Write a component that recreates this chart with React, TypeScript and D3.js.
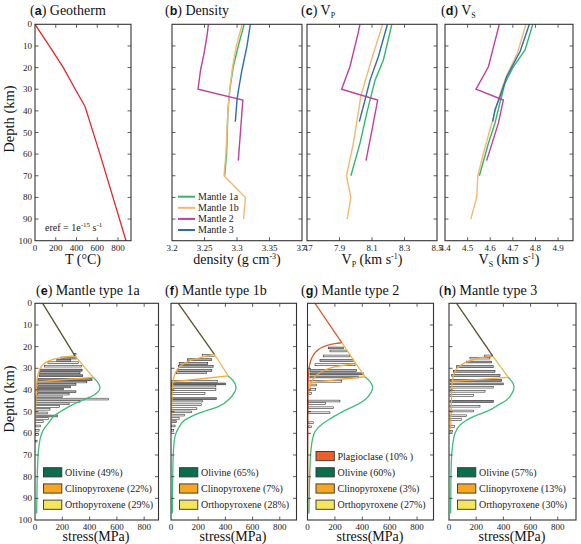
import React from 'react';
import * as d3 from 'd3';

const SERIF = { fontFamily: 'Liberation Serif' };
const SANS = { fontFamily: 'Liberation Sans' };

const depthTicks = [0, 10, 20, 30, 40, 50, 60, 70, 80, 90, 100];

// ---- (a) Geotherm ----
const geoDepth = [0, 10, 20, 30, 38, 60, 100];
const geoTemp = [0, 138, 273, 388, 482, 626, 877];
const tempTicks = [0, 200, 400, 600, 800];

// ---- top-row series ----
const seriesNames = ['Mantle 1a', 'Mantle 1b', 'Mantle 2', 'Mantle 3'];
const seriesColors = ['#35b56a', '#f4b870', '#c03f9f', '#2c6db5'];

// density
const rho1aDepth = [0, 10, 20, 30, 40, 60, 70];
const rho1a = [3.311, 3.302, 3.294, 3.289, 3.286, 3.284, 3.281];
const rho1bDepth = [0, 10, 20, 30, 40, 60, 70, 80, 90];
const rho1b = [3.308, 3.299, 3.293, 3.289, 3.286, 3.283, 3.28, 3.313, 3.31];
const rho2Depth = [0, 5, 14, 21, 30, 35, 47, 63];
const rho2 = [3.256, 3.254, 3.249, 3.244, 3.24, 3.309, 3.306, 3.302];
const rho3Depth = [0, 10, 21, 30, 35, 45];
const rho3 = [3.3205, 3.3154, 3.3077, 3.3025, 3.3, 3.2974];
const rhoTicks = [3.2, 3.25, 3.3, 3.35, 3.4];

// Vp
const vp1aDepth = [0, 16.5, 25.8, 40, 55, 70];
const vp1a = [8.222, 8.17, 8.119, 8.071, 8.026, 7.97];
const vp1bDepth = [0, 13.6, 25, 33, 41, 55, 70, 80, 90];
const vp1b = [8.166, 8.108, 8.063, 8.032, 8.015, 7.985, 7.943, 7.97, 7.947];
const vp2Depth = [0, 4, 19.6, 30, 35, 49.6, 63];
const vp2 = [8.026, 8.015, 7.964, 7.913, 8.135, 8.098, 8.063];
const vp3Depth = [0, 15, 25.8, 35, 45];
const vp3 = [8.195, 8.139, 8.088, 8.057, 8.022];
const vpTicks = [7.7, 7.9, 8.1, 8.3, 8.5];

// Vs
const vs1aDepth = [0, 11.8, 20, 27.3, 35, 45.6, 55, 70];
const vs1a = [4.788, 4.754, 4.7, 4.665, 4.646, 4.621, 4.592, 4.552];
const vs1bDepth = [0, 13.4, 24.2, 33.5, 45.7, 59.6, 70, 80, 90];
const vs1b = [4.758, 4.72, 4.67, 4.639, 4.607, 4.57, 4.545, 4.54, 4.514];
const vs2Depth = [0, 19.6, 30, 35, 45.7, 63];
const vs2 = [4.64, 4.592, 4.537, 4.658, 4.636, 4.584];
const vs3Depth = [0, 12.6, 24.2, 33.5, 39.5, 45];
const vs3 = [4.773, 4.732, 4.673, 4.643, 4.621, 4.611];
const vsTicks = [4.4, 4.5, 4.6, 4.7, 4.8, 4.9];

// ---- bottom-row strength envelopes: [stress MPa, depth km] ----
const stressTicks = [0, 200, 400, 600, 800];

const eBrittle = [[56, 0], [293, 24.3]];
const eBrittleOpx = [[293, 24.3], [427, 34.2]];
const eCpx = [[293, 24.3], [230, 24.7], [160, 25.4], [100, 26.6], [60, 28.2], [35, 30.5], [20, 33.5], [12, 37], [8, 42], [5, 50], [4, 56]];
const eOpx = [[427, 34.2], [17, 36.2]];
const eOlivine = [[427, 34.2], [455, 36], [470, 37.6], [476, 38.8], [466, 40.5], [432, 42.3], [354, 44.6], [270, 47], [207, 49.2], [140, 52], [97, 55.4], [60, 58.5], [40, 62], [27, 67], [19, 75], [15, 85], [12, 97]];
// bars: [top km, bottom km, lo MPa, hi MPa, fill 0 white / 1 grey / 2 dark]
const eBars = [
  [23.2, 23.9, 285, 300, 0], [24.8, 25.7, 190, 305, 1], [25.9, 26.7, 160, 262, 1], [27.0, 27.8, 95, 320, 0],
  [28.6, 29.4, 70, 340, 0], [30.4, 31.3, 35, 345, 2], [31.6, 32.5, 35, 330, 1], [33.0, 33.8, 30, 350, 2],
  [34.8, 35.7, 20, 418, 2], [36.0, 36.7, 20, 380, 0], [37.0, 37.8, 20, 300, 1], [38.2, 39.0, 20, 260, 1],
  [39.2, 39.9, 20, 210, 1], [40.4, 41.2, 20, 300, 1], [41.6, 42.3, 15, 250, 0], [42.8, 43.5, 5, 200, 0],
  [43.8, 44.6, 5, 537, 0], [44.9, 45.6, 5, 330, 0], [46.0, 46.8, 5, 250, 0], [47.2, 48.0, 5, 180, 0],
  [48.5, 49.3, 5, 110, 0], [50.2, 51.0, 5, 90, 0], [51.6, 52.4, 5, 165, 1], [52.8, 53.5, 5, 100, 0],
  [54.2, 55.0, 5, 60, 0], [56.2, 57.0, 5, 40, 0], [58.2, 59.0, 5, 30, 0], [60.2, 61.0, 5, 25, 0], [63.2, 64.0, 5, 15, 0],
];

const fBrittle = [[54, 0], [318, 23.4]];
const fBrittleOpx = [[318, 23.4], [421, 33.5]];
const fCpx = [[318, 23.4], [250, 24.5], [180, 25.6], [110, 27.3], [60, 29.5], [30, 32.5], [15, 36], [8, 42], [5, 50], [4, 56]];
const fOpx = [[421, 33.5], [15, 36.2]];
const fOlivine = [[421, 33.5], [455, 35.5], [473, 37.5], [478, 38.8], [468, 41], [434, 43.8], [348, 47.7], [270, 49.3], [201, 50.8], [140, 52.5], [103, 53.8], [54, 57.7], [29, 61.5], [18, 68], [13, 78], [11, 88], [10, 97]];
const fBars = [
  [23.6, 24.4, 230, 320, 0], [25.6, 26.4, 120, 300, 1], [27.4, 28.2, 60, 270, 1], [28.7, 29.5, 55, 310, 1],
  [30.6, 31.4, 50, 300, 1], [31.7, 32.5, 40, 260, 0], [35.6, 36.4, 5, 340, 0], [36.8, 37.6, 5, 400, 2],
  [37.8, 38.6, 5, 330, 0], [39.4, 40.2, 5, 330, 0], [41.2, 42.0, 5, 250, 0], [43.6, 44.4, 5, 335, 2],
  [44.7, 45.5, 5, 230, 0], [46.4, 47.2, 5, 225, 0], [48.2, 49.0, 5, 190, 0], [49.7, 50.5, 5, 150, 0],
  [51.2, 52.0, 5, 100, 0], [52.7, 53.5, 5, 60, 0], [54.2, 55.0, 5, 40, 1], [56.2, 57.0, 5, 30, 0], [58.2, 59.0, 5, 20, 0],
];

const gBrittle = [[55, 0], [250, 18.2]];
const gBrittleOpx = [[250, 18.2], [420, 33.9]];
const gPlag = [[250, 18.2], [200, 18.6], [150, 19.3], [100, 20.5], [60, 22.5], [30, 25.4], [15, 28.5], [8, 32], [5, 36], [3, 45], [2, 60], [2, 97]];
const gCpx = [[334, 27.9], [270, 28.5], [190, 29.5], [120, 31], [70, 33], [40, 35], [20, 38], [10, 42]];
const gOpx = [[420, 33.9], [18, 36.6]];
const gOlivine = [[420, 33.9], [455, 36], [472, 37.8], [476, 38.8], [465, 41], [432, 43.8], [334, 47.7], [270, 49.5], [213, 51.5], [160, 53.5], [115, 55.4], [55, 59.2], [38, 62.3], [25, 68], [17, 78], [13, 88], [11, 97]];
const gBars = [
  [20.2, 21.0, 152, 262, 1], [21.6, 22.4, 164, 286, 0], [23.9, 24.7, 115, 310, 0], [26.0, 26.8, 91, 335, 1],
  [27.9, 28.8, 55, 347, 0], [30.6, 31.4, 18, 359, 1], [32.1, 33.0, 18, 408, 2], [33.6, 34.4, 18, 371, 1],
  [35.6, 36.4, 18, 250, 0], [37.3, 38.1, 18, 67, 0], [39.3, 40.1, 18, 60, 0], [41.2, 42.0, 5, 30, 0],
  [44.7, 45.5, 5, 237, 0], [45.8, 46.6, 5, 130, 0], [47.8, 48.6, 5, 189, 0], [50.1, 50.9, 5, 164, 0],
  [54.7, 55.5, 5, 43, 0], [56.6, 57.4, 5, 30, 0],
];

const hBrittle = [[56, 0], [321, 24.3]];
const hBrittleOpx = [[321, 24.3], [436, 34.2]];
const hCpx = [[321, 24.3], [250, 25], [170, 26.2], [110, 27.7], [60, 30], [35, 33], [25, 36], [20, 40], [18, 45], [15, 52], [12, 58]];
const hOpx = [[436, 34.2], [20, 36]];
const hOlivine = [[436, 34.2], [462, 36], [476, 37.8], [478, 38.8], [468, 41], [424, 44.6], [360, 47], [301, 49.2], [240, 50.8], [179, 52.3], [120, 54.3], [81, 56.2], [44, 60], [28, 65], [18, 72], [14, 82], [12, 97]];
const hBars = [
  [23.9, 24.6, 260, 321, 0], [24.9, 25.7, 154, 301, 0], [26.7, 27.5, 130, 314, 1], [28.8, 29.7, 56, 326, 1],
  [30.9, 31.8, 32, 338, 1], [32.8, 33.7, 20, 375, 1], [35.2, 36.0, 7, 387, 2], [36.8, 37.6, 7, 399, 1],
  [38.3, 39.1, 7, 326, 0], [40.2, 41.0, 7, 265, 0], [42.1, 42.9, 7, 180, 0], [44.8, 45.7, 7, 326, 2],
  [47.1, 47.9, 7, 228, 0], [49.3, 50.1, 7, 179, 0], [51.5, 52.3, 7, 130, 0], [53.2, 54.0, 7, 90, 0],
  [56.4, 57.3, 7, 40, 0], [58.6, 59.4, 7, 25, 0],
];

const mineralColors: Record<string, string> = {
  Plagioclase: '#e8602c', Olivine: '#0d6e4e', Clinopyroxene: '#f5a623', Orthopyroxene: '#f4e65c',
};
const eLegend = [['Olivine', '(49%)'], ['Clinopyroxene', '(22%)'], ['Orthopyroxene', '(29%)']];
const fLegend = [['Olivine', '(65%)'], ['Clinopyroxene', '(7%)'], ['Orthopyroxene', '(28%)']];
const gLegend = [['Plagioclase', '(10% )'], ['Olivine', '(60%)'], ['Clinopyroxene', '(3%)'], ['Orthopyroxene', '(27%)']];
const hLegend = [['Olivine', '(57%)'], ['Clinopyroxene', '(13%)'], ['Orthopyroxene', '(30%)']];

const TOP = { y0: 24.3, y1: 240.7 };
const BOT = { y0: 303.3, y1: 520 };

function Frame({ x0, x1, y0, y1, xs, ys, xTicks, fmt, showY, labelY }: any) {
  const t = 3.5;
  const st = { stroke: '#333', strokeWidth: 0.8 };
  return (
    <g>
      {depthTicks.slice(1, -1).map((d) => (
        <g key={'y' + d}>
          <line x1={x0} x2={x0 + t} y1={ys(d)} y2={ys(d)} {...st} />
          <line x1={x1} x2={x1 - t} y1={ys(d)} y2={ys(d)} {...st} />
        </g>
      ))}
      {xTicks.map((v: number) => {
        const x = xs(v);
        if (Math.abs(x - x0) < 1 || Math.abs(x - x1) < 1) return null;
        return (
          <g key={'x' + v}>
            <line x1={x} x2={x} y1={y0} y2={y0 + t} {...st} />
            <line x1={x} x2={x} y1={y1} y2={y1 - t} {...st} />
          </g>
        );
      })}
      <rect x={x0} y={y0} width={x1 - x0} height={y1 - y0} fill="none" stroke="#333" strokeWidth={1.1} />
      {showY && depthTicks.map((d) => (
        <text key={'yl' + d} x={x0 - 3} y={ys(d) + 3} textAnchor="end" style={SERIF} fontSize={9} fill="#222">{d}</text>
      ))}
      {xTicks.map((v: number) => (
        <text key={'xl' + v} x={xs(v)} y={labelY} textAnchor="middle" style={SERIF} fontSize={9} fill="#222">{fmt(v)}</text>
      ))}
    </g>
  );
}

function Title({ x, y, letter, children }: any) {
  return (
    <text x={x} y={y} style={SERIF} fontSize={14} fill="#111">
      (<tspan style={SANS} fontWeight="bold" fontSize={12.5}>{letter}</tspan>) {children}
    </text>
  );
}

function TopPanel({ x0, x1, domain, ticks, fmt, series }: any) {
  const xs = d3.scaleLinear().domain(domain).range([x0, x1]);
  const ys = d3.scaleLinear().domain([0, 100]).range([TOP.y0, TOP.y1]);
  const line = d3.line<[number, number]>().x((d) => xs(d[0])).y((d) => ys(d[1]));
  return (
    <g>
      {series.map((s: any, i: number) => (
        <path key={i} d={line(s.values.map((v: number, j: number) => [v, s.depth[j]]) as any) || ''} fill="none" stroke={s.color} strokeWidth={1.4} />
      ))}
      <Frame x0={x0} x1={x1} y0={TOP.y0} y1={TOP.y1} xs={xs} ys={ys} xTicks={ticks} fmt={fmt} showY={false} labelY={251} />
    </g>
  );
}

function StressPanel({ x0, x1, xMax, bars, curves, legend }: any) {
  const xs = d3.scaleLinear().domain([0, xMax]).range([x0, x1]);
  const ys = d3.scaleLinear().domain([0, 100]).range([BOT.y0, BOT.y1]);
  const straight = d3.line<number[]>().x((d) => xs(d[0])).y((d) => ys(d[1]));
  const smooth = d3.line<number[]>().x((d) => xs(d[0])).y((d) => ys(d[1])).curve(d3.curveMonotoneY);
  const fills = ['#ffffff', '#b4b4b4', '#8a8a8a'];
  const legendBottom = 504.7;
  const n = legend.length;
  return (
    <g>
      {bars.map((b: number[], i: number) => (
        <rect key={i} x={xs(b[2])} y={ys(b[0])} width={xs(b[3]) - xs(b[2])} height={ys(b[1]) - ys(b[0])} fill={fills[b[4]]} stroke="#2a2a2a" strokeWidth={0.6} />
      ))}
      {curves.map((c: any, i: number) => (
        <path key={'c' + i} d={(c.smooth ? smooth : straight)(c.pts) || ''} fill="none" stroke={c.color} strokeWidth={1.3} />
      ))}
      <Frame x0={x0} x1={x1} y0={BOT.y0} y1={BOT.y1} xs={xs} ys={ys} xTicks={stressTicks} fmt={(v: number) => String(v)} showY={x0 < 50} labelY={530} />
      {legend.map((l: string[], i: number) => {
        const cy = legendBottom - (n - 1 - i) * 16.2;
        const bx = x0 + 8.5;
        return (
          <g key={'l' + i}>
            <rect x={bx} y={cy - 4.6} width={18.3} height={9.2} fill={mineralColors[l[0]]} stroke="#333" strokeWidth={0.9} />
            <text x={bx + 21.5} y={cy + 3.4} style={SERIF} fontSize={10} fill="#222">{l[0]} {l[1]}</text>
          </g>
        );
      })}
    </g>
  );
}

const C_DARK = '#5a5225';
const C_OPXL = '#e9b94a';
const C_CPX = '#f3a83e';
const C_OL = '#3dbd78';
const C_PL = '#dd5a2a';

export default function App() {
  const topX = { a: [35, 131], b: [172, 302], c: [307, 437], d: [445, 573] };
  const xsA = d3.scaleLinear().domain([0, 925]).range(topX.a as [number, number]);
  const ysTop = d3.scaleLinear().domain([0, 100]).range([TOP.y0, TOP.y1]);
  const geoLine = d3.line<number>().x((d, i) => xsA(geoTemp[i])).y((d) => ysTop(d));

  const mk = (pairs: [number[], number[]][]) => pairs.map((p, i) => ({ depth: p[0], values: p[1], color: seriesColors[i] }));
  const rhoSeries = mk([[rho1aDepth, rho1a], [rho1bDepth, rho1b], [rho2Depth, rho2], [rho3Depth, rho3]]);
  const vpSeries = mk([[vp1aDepth, vp1a], [vp1bDepth, vp1b], [vp2Depth, vp2], [vp3Depth, vp3]]);
  const vsSeries = mk([[vs1aDepth, vs1a], [vs1bDepth, vs1b], [vs2Depth, vs2], [vs3Depth, vs3]]);

  const stdCurves = (brittle: number[][], bOpx: number[][], cpx: number[][], opx: number[][], ol: number[][], darkColor = C_DARK) => [
    { pts: cpx, color: C_CPX, smooth: true },
    { pts: opx, color: C_CPX, smooth: false },
    { pts: ol, color: C_OL, smooth: true },
    { pts: bOpx, color: C_OPXL, smooth: false },
    { pts: brittle, color: darkColor, smooth: false },
  ];

  const sub = (s: string) => <tspan fontSize={8} dy={3}>{s}</tspan>;

  return (
    <svg width={581} height={544} style={{ position: 'absolute', left: 0, top: 0, background: '#fff' }}>
      <rect x={0} y={0} width={581} height={544} fill="#fff" />
      {/* (a) */}
      <path d={geoLine(geoDepth) || ''} fill="none" stroke="#e4262c" strokeWidth={1.3} />
      <Frame x0={topX.a[0]} x1={topX.a[1]} y0={TOP.y0} y1={TOP.y1} xs={xsA} ys={ysTop} xTicks={tempTicks} fmt={(v: number) => String(v)} showY={true} labelY={251} />
      <text x={45} y={231} style={SERIF} fontSize={10} fill="#222">
        eref = 1e<tspan fontSize={7} dy={-4}>-15</tspan><tspan dy={4}> s</tspan><tspan fontSize={7} dy={-4}>-1</tspan>
      </text>
      <Title x={30} y={15} letter="a">Geotherm</Title>
      <text x={83} y={264} textAnchor="middle" style={SERIF} fontSize={14} fill="#111">T (°C)</text>

      {/* (b) */}
      <TopPanel x0={topX.b[0]} x1={topX.b[1]} domain={[3.2, 3.4]} ticks={rhoTicks} fmt={(v: number) => String(v)} series={rhoSeries} />
      {seriesNames.map((nm, i) => (
        <g key={nm}>
          <line x1={178} x2={195} y1={196.7 + i * 11.1} y2={196.7 + i * 11.1} stroke={seriesColors[i]} strokeWidth={2} />
          <text x={198} y={200 + i * 11.1} style={SERIF} fontSize={10} fill="#222">{nm}</text>
        </g>
      ))}
      <Title x={165} y={15} letter="b">Density</Title>
      <text x={237} y={264} textAnchor="middle" style={SERIF} fontSize={14} fill="#111">
        density (g cm<tspan fontSize={8} dy={-5}>-3</tspan><tspan dy={5}>)</tspan>
      </text>

      {/* (c) */}
      <TopPanel x0={topX.c[0]} x1={topX.c[1]} domain={[7.7, 8.5]} ticks={vpTicks} fmt={(v: number) => String(v)} series={vpSeries} />
      <Title x={301} y={15} letter="c">V{sub('P')}</Title>
      <text x={372} y={264} textAnchor="middle" style={SERIF} fontSize={14} fill="#111">
        V<tspan fontSize={8} dy={3}>P</tspan><tspan dy={-3}> (km s</tspan><tspan fontSize={8} dy={-5}>-1</tspan><tspan dy={5}>)</tspan>
      </text>

      {/* (d) */}
      <TopPanel x0={topX.d[0]} x1={topX.d[1]} domain={[4.4, 4.966]} ticks={vsTicks} fmt={(v: number) => String(v)} series={vsSeries} />
      <Title x={441} y={15} letter="d">V{sub('S')}</Title>
      <text x={509} y={264} textAnchor="middle" style={SERIF} fontSize={14} fill="#111">
        V<tspan fontSize={8} dy={3}>S</tspan><tspan dy={-3}> (km s</tspan><tspan fontSize={8} dy={-5}>-1</tspan><tspan dy={5}>)</tspan>
      </text>

      {/* Depth labels */}
      <text transform="translate(14,119) rotate(-90)" textAnchor="middle" style={SERIF} fontSize={14.5} fill="#111">Depth (km)</text>
      <text transform="translate(14,399) rotate(-90)" textAnchor="middle" style={SERIF} fontSize={14.5} fill="#111">Depth (km)</text>

      {/* bottom row */}
      <StressPanel x0={35} x1={158.5} xMax={905} bars={eBars} curves={stdCurves(eBrittle, eBrittleOpx, eCpx, eOpx, eOlivine)} legend={eLegend} />
      <Title x={36} y={295} letter="e">Mantle type 1a</Title>
      <text x={96} y={541} textAnchor="middle" style={SERIF} fontSize={14} fill="#111">stress(MPa)</text>

      <StressPanel x0={171} x1={296.5} xMax={923} bars={fBars} curves={stdCurves(fBrittle, fBrittleOpx, fCpx, fOpx, fOlivine)} legend={fLegend} />
      <Title x={165} y={295} letter="f">Mantle type 1b</Title>
      <text x={233} y={541} textAnchor="middle" style={SERIF} fontSize={14} fill="#111">stress(MPa)</text>

      <StressPanel x0={307.5} x1={433.5} xMax={920}
        bars={gBars}
        curves={[
          { pts: gPlag, color: C_PL, smooth: true },
          { pts: gCpx, color: C_CPX, smooth: true },
          { pts: gOpx, color: C_CPX, smooth: false },
          { pts: gOlivine, color: C_OL, smooth: true },
          { pts: gBrittleOpx, color: C_OPXL, smooth: false },
          { pts: gBrittle, color: C_PL, smooth: false },
        ]}
        legend={gLegend} />
      <Title x={301} y={295} letter="g">Mantle type 2</Title>
      <text x={370} y={541} textAnchor="middle" style={SERIF} fontSize={14} fill="#111">stress(MPa)</text>

      <StressPanel x0={449} x1={576} xMax={934} bars={hBars} curves={stdCurves(hBrittle, hBrittleOpx, hCpx, hOpx, hOlivine)} legend={hLegend} />
      <Title x={439} y={295} letter="h"> Mantle type 3</Title>
      <text x={512} y={541} textAnchor="middle" style={SERIF} fontSize={14} fill="#111">stress(MPa)</text>
    </svg>
  );
}
